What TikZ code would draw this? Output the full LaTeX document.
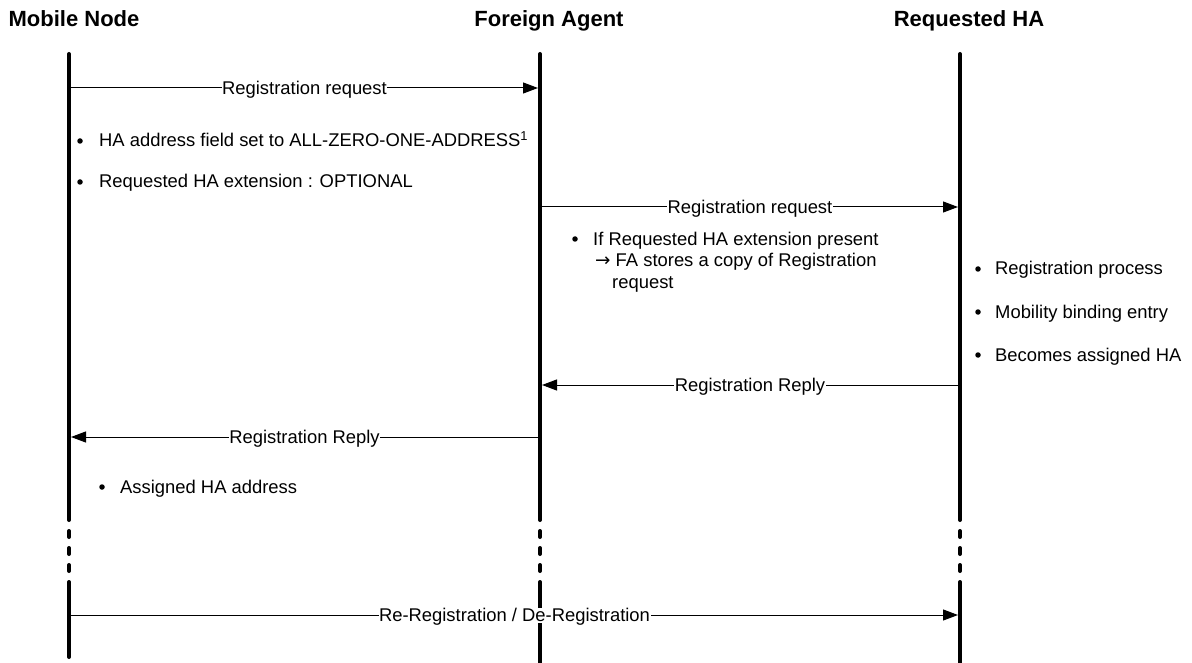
\documentclass[tikz,border=0pt]{standalone}
\usepackage{fontspec}
\setmainfont{Liberation Sans}
\newfontfamily\arrowfont{DejaVu Sans}
\usetikzlibrary{arrows.meta}
\begin{document}
\begin{tikzpicture}[x=1pt,y=-1pt,
  lifeline/.style={line width=4pt, line cap=round},
  gap/.style={line width=4pt, line cap=round, dash pattern=on 6pt off 11pt},
  msg/.style={line width=1pt, -{Triangle[length=15pt,width=11pt]}, shorten >=2pt},
  msglabel/.style={fill=white, inner xsep=0.5pt, inner ysep=1pt, text height=13pt, text depth=0pt,
    font=\fontsize{18.4}{21}\selectfont},
  head/.style={anchor=base, inner sep=0pt, font=\bfseries\fontsize{22}{26}\selectfont},
  item/.style={anchor=base west, inner sep=0pt, align=left, font=\fontsize{18.4}{21.5}\selectfont},
  dot/.style={circle, fill=black, inner sep=0pt, minimum size=5.5pt},
]
\useasboundingbox (0,0) rectangle (1192,663);

% column headings
\node[head] (hmn) at (74,27) {Mobile Node};
\node[head] (hfa) at (549,27) {Foreign Agent};
\node[head] (hha) at (969,27) {Requested HA};

% lifeline end points
\coordinate (mnTop) at (69,54);   \coordinate (mnBot) at (69,657);
\coordinate (faTop) at (540,54);  \coordinate (faBot) at (540,666);
\coordinate (haTop) at (960,54);  \coordinate (haBot) at (960,666);

% lifelines, interrupted by a dotted stretch
\foreach \l in {mn,fa,ha}{
  \draw[lifeline] (\l Top) -- (\l Top |- 0,520);
  \draw[gap] (\l Top |- 0,531) -- (\l Top |- 0,572);
  \draw[lifeline] (\l Top |- 0,582) -- (\l Bot);
}

% message anchor points on the lifelines
\coordinate (mn1) at (69,88);   \coordinate (fa1) at (540,88);
\coordinate (fa2) at (540,207); \coordinate (ha2) at (960,207);
\coordinate (ha3) at (960,385); \coordinate (fa3) at (540,385);
\coordinate (fa4) at (540,437); \coordinate (mn4) at (69,437);
\coordinate (mn5) at (69,615);  \coordinate (ha5) at (960,615);

% messages
\draw[msg] (mn1) -- (fa1) node[msglabel, pos=0.5] {Registration request};
\draw[msg] (fa2) -- (ha2) node[msglabel, pos=0.5] {Registration request};
\draw[msg] (ha3) -- (fa3) node[msglabel, pos=0.5] {Registration Reply};
\draw[msg] (fa4) -- (mn4) node[msglabel, pos=0.5] {Registration Reply};
\draw[msg] (mn5) -- (ha5) node[msglabel, pos=0.5] {Re-Registration / De-Registration};

% notes at the mobile node
\node[dot] (b1) at (80,141) {};
\node[item] (t1) at (99,147) {HA address field set to ALL-ZERO-ONE-ADDRESS\textsuperscript{1}};
\node[dot] (b2) at (80,182) {};
\node[item] (t2) at (99,188) {Requested HA extension : OPTIONAL};

% notes at the foreign agent (anchored on the baseline of the last line)
\node[dot] (b3) at (575,239) {};
\node[item] (t3) at (593,288) {If Requested HA extension present\\
  \hspace{2pt}{\arrowfont →} FA stores a copy of Registration\\
  \hspace{19pt}request};

% notes at the requested home agent
\node[dot] (b4) at (978,269) {};
\node[item] (t4) at (995,275) {Registration process};
\node[dot] (b5) at (978,312) {};
\node[item] (t5) at (995,318) {Mobility binding entry};
\node[dot] (b6) at (978,355) {};
\node[item] (t6) at (995,361) {Becomes assigned HA};

% note at the mobile node after the reply
\node[dot] (b7) at (102,487) {};
\node[item] (t7) at (120,493) {Assigned HA address};
\end{tikzpicture}
\end{document}
